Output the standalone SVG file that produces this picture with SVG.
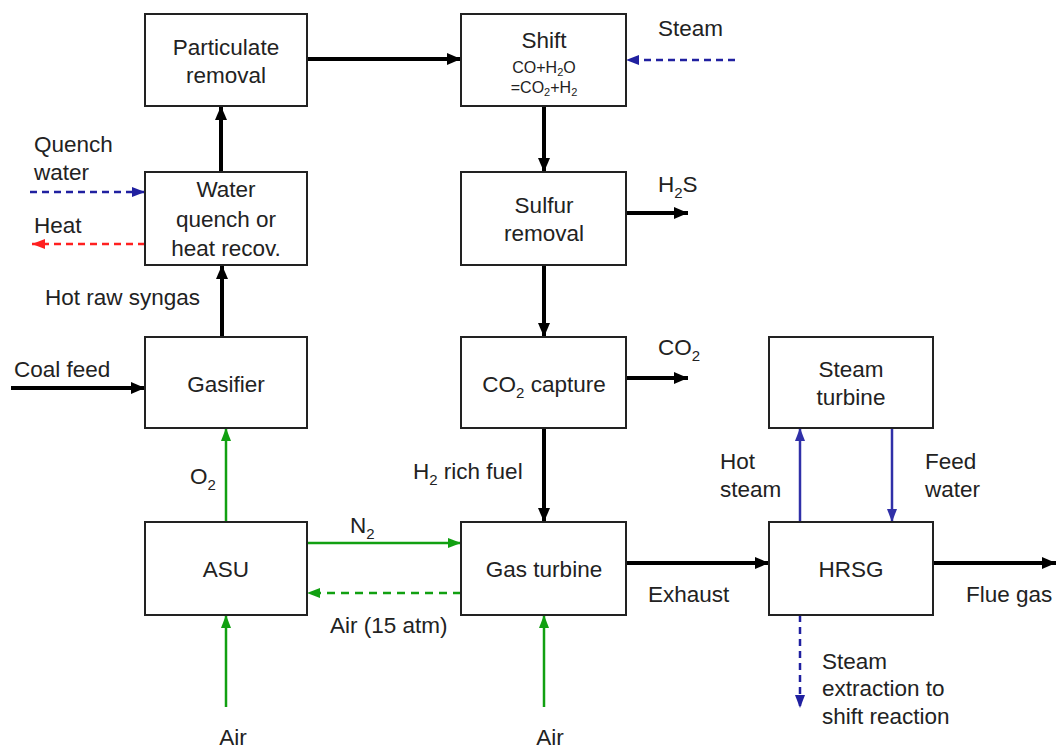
<svg xmlns="http://www.w3.org/2000/svg" width="1062" height="749" viewBox="0 0 1062 749">
<style>
text{font-family:"Liberation Sans",Arial,sans-serif;font-size:22.5px;fill:#222}
.c{text-anchor:middle}
.sm{font-size:16px}
.box{fill:#fff;stroke:#222;stroke-width:2}
.k{stroke:#000;stroke-width:4;fill:none}
.g{stroke:#11a011;stroke-width:2.5;fill:none}
.gd{stroke:#11a011;stroke-width:2.5;fill:none;stroke-dasharray:8 6}
.b{stroke:#3030a8;stroke-width:2.5;fill:none}
.bd{stroke:#2020a0;stroke-width:2.5;fill:none;stroke-dasharray:7 5}
.rd{stroke:#ff2020;stroke-width:2.5;fill:none;stroke-dasharray:7 5}
</style>
<defs>
<marker id="mk" markerUnits="userSpaceOnUse" markerWidth="16" markerHeight="16" refX="14" refY="8" orient="auto"><path d="M0,2 L14,8 L0,14 z" fill="#000"/></marker>
<marker id="mg" markerUnits="userSpaceOnUse" markerWidth="14" markerHeight="14" refX="13" refY="7" orient="auto"><path d="M0,2 L13,7 L0,12 z" fill="#11a011"/></marker>
<marker id="mb" markerUnits="userSpaceOnUse" markerWidth="14" markerHeight="14" refX="13" refY="7" orient="auto"><path d="M0,2 L13,7 L0,12 z" fill="#3030a8"/></marker>
<marker id="mbd" markerUnits="userSpaceOnUse" markerWidth="14" markerHeight="14" refX="13" refY="7" orient="auto"><path d="M0,2 L13,7 L0,12 z" fill="#2020a0"/></marker>
<marker id="mr" markerUnits="userSpaceOnUse" markerWidth="14" markerHeight="14" refX="13" refY="7" orient="auto"><path d="M0,2 L13,7 L0,12 z" fill="#ff2020"/></marker>
</defs>

<g id="connectors">
<line class="k" x1="307" y1="59" x2="461" y2="59" marker-end="url(#mk)"/>
<line class="k" x1="221" y1="172" x2="221" y2="106" marker-end="url(#mk)"/>
<line class="k" x1="222" y1="337" x2="222" y2="265" marker-end="url(#mk)"/>
<line class="k" x1="11" y1="388" x2="145" y2="388" marker-end="url(#mk)"/>
<line class="g" x1="226" y1="522" x2="226" y2="428" marker-end="url(#mg)"/>
<line class="g" x1="226" y1="707" x2="226" y2="615" marker-end="url(#mg)"/>
<line class="g" x1="307" y1="543" x2="461" y2="543" marker-end="url(#mg)"/>
<line class="gd" x1="461" y1="593" x2="307" y2="593" marker-end="url(#mg)"/>
<line class="bd" x1="735" y1="60" x2="626" y2="60" marker-end="url(#mbd)"/>
<line class="bd" x1="30" y1="192" x2="145" y2="192" marker-end="url(#mbd)"/>
<line class="rd" x1="145" y1="244" x2="32" y2="244" marker-end="url(#mr)"/>
<line class="k" x1="544" y1="106" x2="544" y2="172" marker-end="url(#mk)"/>
<line class="k" x1="626" y1="213" x2="688" y2="213" marker-end="url(#mk)"/>
<line class="k" x1="544" y1="265" x2="544" y2="337" marker-end="url(#mk)"/>
<line class="k" x1="626" y1="378" x2="688" y2="378" marker-end="url(#mk)"/>
<line class="k" x1="544" y1="428" x2="544" y2="522" marker-end="url(#mk)"/>
<line class="g" x1="544" y1="707" x2="544" y2="615" marker-end="url(#mg)"/>
<line class="k" x1="626" y1="563" x2="769" y2="563" marker-end="url(#mk)"/>
<line class="k" x1="933" y1="563" x2="1056" y2="563" marker-end="url(#mk)"/>
<line class="b" x1="800" y1="522" x2="800" y2="428" marker-end="url(#mb)"/>
<line class="b" x1="892" y1="428" x2="892" y2="522" marker-end="url(#mb)"/>
<line class="bd" x1="800" y1="615" x2="800" y2="708" marker-end="url(#mbd)"/>
</g>

<g id="particulate"><rect class="box" x="145" y="14" width="162" height="92"/><text class="c" x="226" y="55">Particulate</text><text class="c" x="226" y="83">removal</text></g>
<g id="quench"><rect class="box" x="145" y="172" width="162" height="93"/><text class="c" x="226" y="197">Water</text><text class="c" x="226" y="227">quench or</text><text class="c" x="226" y="256">heat recov.</text></g>
<g id="gasifier"><rect class="box" x="145" y="337" width="162" height="91"/><text class="c" x="226" y="392">Gasifier</text></g>
<g id="asu"><rect class="box" x="145" y="522" width="162" height="93"/><text class="c" x="226" y="577">ASU</text></g>
<g id="shift"><rect class="box" x="461" y="14" width="165" height="92"/><text class="c" x="544" y="48">Shift</text><text class="c sm" x="544" y="73">CO+H<tspan font-size="11" dy="3">2</tspan><tspan dy="-3">O</tspan></text><text class="c sm" x="544" y="93">=CO<tspan font-size="11" dy="3">2</tspan><tspan dy="-3">+H</tspan><tspan font-size="11" dy="3">2</tspan></text></g>
<g id="sulfur"><rect class="box" x="461" y="172" width="165" height="93"/><text class="c" x="544" y="213">Sulfur</text><text class="c" x="544" y="241">removal</text></g>
<g id="co2capture"><rect class="box" x="461" y="337" width="165" height="91"/><text class="c" x="544" y="392">CO<tspan font-size="15" dy="6">2</tspan><tspan dy="-6"> capture</tspan></text></g>
<g id="gasturbine"><rect class="box" x="461" y="522" width="165" height="93"/><text class="c" x="544" y="577">Gas turbine</text></g>
<g id="steamturbine"><rect class="box" x="769" y="337" width="164" height="91"/><text class="c" x="851" y="377">Steam</text><text class="c" x="851" y="405">turbine</text></g>
<g id="hrsg"><rect class="box" x="769" y="522" width="164" height="93"/><text class="c" x="851" y="577">HRSG</text></g>

<g id="labels">
<text x="34" y="152">Quench</text><text x="34" y="180">water</text>
<text x="34" y="233">Heat</text>
<text x="45" y="305">Hot raw syngas</text>
<text x="14" y="377">Coal feed</text>
<text x="190" y="484">O<tspan font-size="15" dy="6">2</tspan></text>
<text class="c" x="233" y="745">Air</text>
<text x="350" y="533">N<tspan font-size="15" dy="6">2</tspan></text>
<text x="330" y="633">Air (15 atm)</text>
<text x="658" y="36">Steam</text>
<text x="658" y="192">H<tspan font-size="15" dy="6">2</tspan><tspan dy="-6">S</tspan></text>
<text x="658" y="355">CO<tspan font-size="15" dy="6">2</tspan></text>
<text x="413" y="479">H<tspan font-size="15" dy="6">2</tspan><tspan dy="-6"> rich fuel</tspan></text>
<text class="c" x="550" y="745">Air</text>
<text x="648" y="602">Exhaust</text>
<text x="966" y="602">Flue gas</text>
<text x="720" y="469">Hot</text><text x="720" y="497">steam</text>
<text x="925" y="469">Feed</text><text x="925" y="497">water</text>
<text x="822" y="669">Steam</text><text x="822" y="696">extraction to</text><text x="822" y="724">shift reaction</text>
</g>
</svg>
